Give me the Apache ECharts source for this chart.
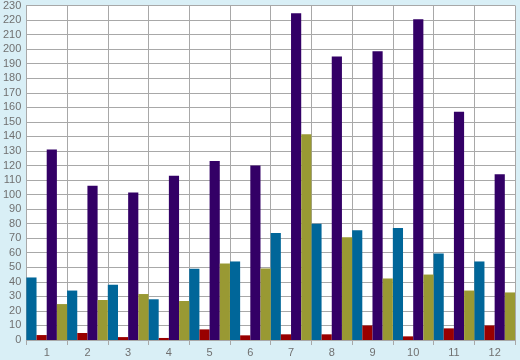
<!DOCTYPE html>
<html>
<head>
<meta charset="utf-8">
<script src="https://cdn.jsdelivr.net/npm/echarts@6/dist/echarts.min.js"></script>
<style>
html,body{margin:0;padding:0;background:#d9eff6;}
#c{width:520px;height:360px;}
</style>
</head>
<body>
<div id="c"></div>
<script>
var categories = ['1','2','3','4','5','6','7','8','9','10','11','12'];
var blueValues   = [43, 34, 38, 28, 49, 54, 73.5, 80, 75.5, 77, 59.5, 54];
var redValues    = [3.4, 4.8, 2, 1.4, 7.3, 3.2, 3.9, 3.9, 10, 2.5, 8, 10];
var purpleValues = [131, 106, 101.5, 113, 123, 120, 224.7, 195, 198.5, 220.6, 157, 114];
var oliveValues  = [24.7, 27.5, 31.6, 26.8, 52.6, 49.2, 141.4, 70.7, 42.3, 45, 34, 32.7];

var chart = echarts.init(document.getElementById('c'), null, {renderer:'canvas'});
var labelFont = {color:'#707070', fontFamily:'Liberation Sans', fontSize:11};
function bar(name, data, color){
  return {name:name, type:'bar', data:data, barGap:'0%', barCategoryGap:'0%',
          itemStyle:{color:color}, animation:false};
}
chart.setOption({
  backgroundColor:'#d9eff6',
  animation:false,
  grid:{left:26, right:5, top:5, bottom:20, show:true, backgroundColor:'#ffffff', borderWidth:0},
  xAxis:{type:'category', data:categories, boundaryGap:true,
    axisLine:{show:true, lineStyle:{color:'#a8a8a8'}},
    axisTick:{show:true, length:5, lineStyle:{color:'#a8a8a8'}},
    splitLine:{show:true, lineStyle:{color:'#a8a8a8', width:1}},
    axisLabel:Object.assign({margin:7}, labelFont)},
  yAxis:{type:'value', min:0, max:230, interval:10,
    axisLine:{show:true, lineStyle:{color:'#a8a8a8'}},
    axisTick:{show:false},
    splitLine:{show:true, lineStyle:{color:'#a8a8a8', width:1}},
    axisLabel:Object.assign({margin:5}, labelFont)},
  series:[
    bar('blue', blueValues, '#006699'),
    bar('red', redValues, '#990000'),
    bar('purple', purpleValues, '#330066'),
    bar('olive', oliveValues, '#999933')
  ]
});
</script>
</body>
</html>
